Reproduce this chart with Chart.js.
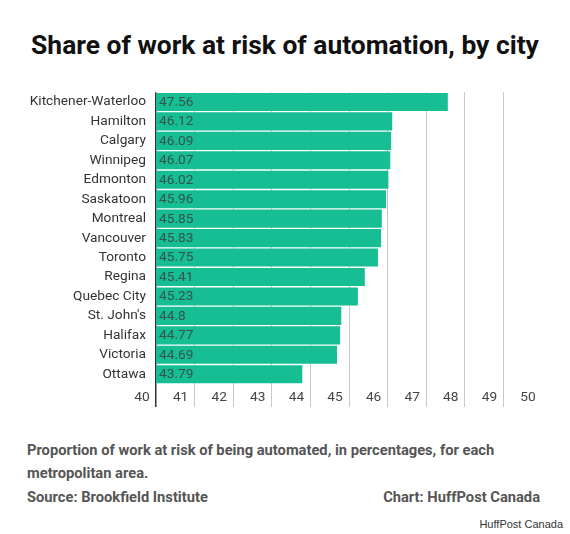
<!DOCTYPE html>
<html>
<head>
<meta charset="utf-8">
<script src="https://cdn.jsdelivr.net/npm/chart.js@4.4.1/dist/chart.umd.min.js"></script>
<style>
  html, body { margin:0; padding:0; background:#fff; }
  body { width:570px; height:534px; position:relative; overflow:hidden; font-family: Roboto, "Noto Sans", sans-serif; }
  #title { position:absolute; left:0; width:570px; top:30px; text-align:center; font-weight:700; font-size:26.4px; color:#111; }
  #wrap { position:absolute; left:0; top:74px; width:570px; height:340px; }
  .foot { position:absolute; left:27px; font-weight:700; font-size:14.7px; color:#555; }
  #credit { position:absolute; right:30px; top:488px; font-weight:700; font-size:14.7px; color:#555; }
  #hp { position:absolute; right:7px; top:518px; font-family:"Liberation Sans", Arial, sans-serif; font-size:11px; color:#333; }
</style>
</head>
<body>
<div id="title">Share of work at risk of automation, by city</div>
<div id="wrap"><canvas id="c"></canvas></div>
<div class="foot" style="top:441px">Proportion of work at risk of being automated, in percentages, for each</div>
<div class="foot" style="top:464px">metropolitan area.</div>
<div class="foot" style="top:488px">Source: Brookfield Institute</div>
<div id="credit">Chart: HuffPost Canada</div>
<div id="hp">HuffPost Canada</div>
<script>
const cities = ["Kitchener-Waterloo","Hamilton","Calgary","Winnipeg","Edmonton","Saskatoon","Montreal","Vancouver","Toronto","Regina","Quebec City","St. John's","Halifax","Victoria","Ottawa"];
const shares = [47.56,46.12,46.09,46.07,46.02,45.96,45.85,45.83,45.75,45.41,45.23,44.8,44.77,44.69,43.79];
const shareLabels = ["47.56","46.12","46.09","46.07","46.02","45.96","45.85","45.83","45.75","45.41","45.23","44.8","44.77","44.69","43.79"];
const axisMin = 40, axisMax = 50;

const valueLabels = {
  id: 'valueLabels',
  afterDatasetsDraw(chart) {
    const ctx = chart.ctx;
    const meta = chart.getDatasetMeta(0);
    const x0 = chart.scales.x.getPixelForValue(axisMin);
    ctx.save();
    ctx.font = '13.7px Roboto';
    ctx.fillStyle = '#34544b';
    ctx.textAlign = 'left';
    ctx.textBaseline = 'middle';
    meta.data.forEach((bar, i) => {
      ctx.fillText(shareLabels[i], x0 + 3, bar.y + 0.5);
    });
    ctx.restore();
  }
};

new Chart(document.getElementById('c'), {
  type: 'bar',
  data: {
    labels: cities,
    datasets: [{
      data: shares,
      backgroundColor: '#17be94',
      borderWidth: 0,
      categoryPercentage: 1,
      barPercentage: 0.93
    }]
  },
  plugins: [valueLabels],
  options: {
    indexAxis: 'y',
    responsive: true,
    maintainAspectRatio: false,
    animation: false,
    layout: { padding: { top: 0, right: 28, left: 0, bottom: 0 } },
    plugins: { legend: { display: false }, tooltip: { enabled: false }, title: { display: false } },
    scales: {
      x: {
        min: axisMin, max: axisMax,
        border: { display: false },
        afterFit: (s) => { s.height = 30; },
        grid: {
          tickLength: 23,
          lineWidth: (c) => c.tick && c.tick.value === axisMin ? 1.5 : 1,
          color: (c) => {
            if (!c.tick) return '#cccccc';
            if (c.tick.value === axisMin) return '#333333';
            if (c.tick.value === axisMax) return 'rgba(0,0,0,0)';
            return '#c8c8c8';
          }
        },
        ticks: {
          stepSize: 1,
          padding: -18,
          labelOffset: -14,
          color: '#444',
          font: { family: 'Roboto', size: 13.7 }
        }
      },
      y: {
        border: { display: false },
        grid: { display: false, drawTicks: false },
        afterFit: (s) => { s.width = 156; },
        ticks: {
          padding: 10,
          color: '#333',
          font: { family: 'Roboto', size: 13.7 }
        }
      }
    }
  }
});
</script>
</body>
</html>
